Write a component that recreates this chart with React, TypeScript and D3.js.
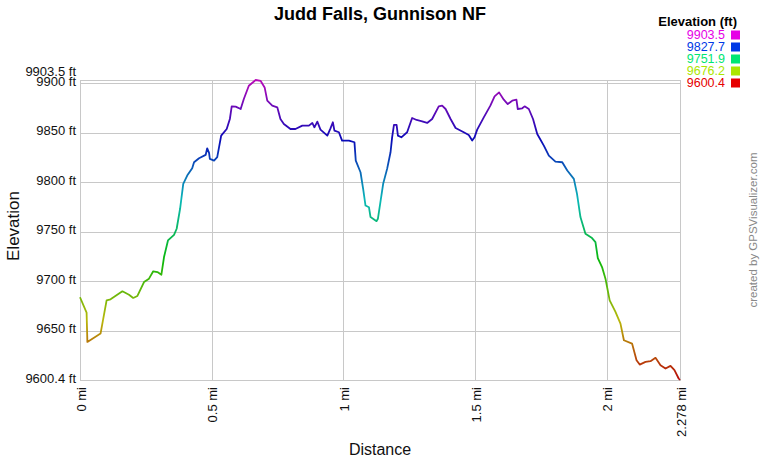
import React from "react";
import * as d3 from "d3";

const title = "Judd Falls, Gunnison NF";
const xTitle = "Distance";
const yTitle = "Elevation";
const credit = "created by GPSVisualizer.com";
const legendTitle = "Elevation (ft)";

const distanceMi = [
  0, 0.025, 0.028, 0.078, 0.101, 0.116, 0.161, 0.186, 0.202, 0.218,
  0.243, 0.262, 0.278, 0.294, 0.309, 0.319, 0.334, 0.357, 0.367, 0.380,
  0.392, 0.407, 0.426, 0.433, 0.452, 0.477, 0.483, 0.490, 0.493, 0.509,
  0.521, 0.536, 0.557, 0.569, 0.576, 0.591, 0.610, 0.622, 0.641, 0.667,
  0.686, 0.701, 0.711, 0.730, 0.749, 0.761, 0.774, 0.799, 0.818, 0.844,
  0.869, 0.882, 0.890, 0.901, 0.913, 0.939, 0.951, 0.960, 0.966, 0.983,
  0.995, 1.021, 1.042, 1.047, 1.065, 1.075, 1.084, 1.097, 1.103, 1.126,
  1.131, 1.151, 1.166, 1.179, 1.185, 1.192, 1.202, 1.207, 1.220, 1.242,
  1.261, 1.278, 1.299, 1.318, 1.337, 1.362, 1.375, 1.388, 1.407, 1.426,
  1.457, 1.476, 1.489, 1.498, 1.508, 1.533, 1.558, 1.574, 1.591, 1.609,
  1.624, 1.641, 1.657, 1.662, 1.679, 1.688, 1.704, 1.720, 1.736, 1.761,
  1.780, 1.805, 1.831, 1.850, 1.875, 1.887, 1.900, 1.919, 1.944, 1.957,
  1.966, 1.982, 1.995, 2.011, 2.033, 2.052, 2.065, 2.096, 2.113, 2.125,
  2.147, 2.166, 2.185, 2.204, 2.223, 2.242, 2.257, 2.273, 2.278,
];

const elevationFt = [
  9684, 9668.5, 9638.9, 9647.3, 9680.9, 9681.9, 9690, 9686.6, 9683.3, 9685.3,
  9699.4, 9702.8, 9710.2, 9709.5, 9706.8, 9724.6, 9741.4, 9747.1, 9753.2, 9773.4,
  9798.6, 9807, 9814.4, 9820.4, 9824.5, 9827.8, 9834.5, 9829.8, 9823.8, 9822.1,
  9825.5, 9847.3, 9854, 9864.1, 9876.9, 9876.6, 9874.2, 9884.3, 9897.7, 9903.5,
  9902.5, 9896, 9882.6, 9877.6, 9875.9, 9864.1, 9859.1, 9854, 9854, 9857.4,
  9857.4, 9860.1, 9855.7, 9861.4, 9853.4, 9847.3, 9854.7, 9860.8, 9852.4, 9850.7,
  9842.3, 9842.3, 9840.6, 9822.1, 9810.3, 9793.5, 9776.7, 9775, 9765, 9760.9,
  9763.3, 9798.6, 9813.7, 9830.5, 9845.6, 9858.1, 9858.1, 9847.3, 9845.6, 9850.7,
  9865.1, 9863.1, 9861.8, 9860.1, 9864.1, 9876.9, 9877.6, 9874.2, 9864.1, 9855,
  9850.7, 9848, 9842.3, 9845.6, 9853.4, 9865.8, 9877.6, 9887, 9891, 9883.6,
  9879.2, 9882.6, 9883.6, 9874.2, 9874.9, 9876.9, 9874.2, 9864.1, 9849, 9837.2,
  9827.1, 9821.1, 9820.4, 9812, 9803.6, 9788.5, 9765, 9748.1, 9743.8, 9739.7,
  9723.6, 9714.5, 9702.8, 9680.9, 9669.2, 9657.4, 9640.6, 9637.2, 9620.4, 9616,
  9618.7, 9619.4, 9622.8, 9615.4, 9612, 9614.7, 9610.3, 9601.9, 9600.4,
];

const yMin = 9600.4;
const yMax = 9903.5;
const xMax = 2.278;
const yTicks = [9650, 9700, 9750, 9800, 9850, 9900];
const xTicks = [0, 0.5, 1, 1.5, 2];
const legendValues = ["9903.5", "9827.7", "9751.9", "9676.2", "9600.4"];

const W = 760;
const H = 460;
const L = 80, R = 680, T = 80, B = 380;
const FONT = "Arial, 'Liberation Sans', Helvetica, sans-serif";

export default function App() {
  const x = d3.scaleLinear().domain([0, xMax]).range([L, R]);
  const y = d3.scaleLinear().domain([yMin, yMax]).range([B, T]);
  const hue = d3.scaleLinear().domain([yMin, yMax]).range([0, 300]);

  const pts = distanceMi.map((d, i) => [d, elevationFt[i]] as [number, number]);
  const line = d3
    .line<[number, number]>()
    .x((d) => x(d[0]))
    .y((d) => y(d[1]))
    .curve(d3.curveLinear);

  const stopsN = 20;
  const stops = d3.range(stopsN + 1).map((i) => {
    const v = yMin + ((yMax - yMin) * i) / stopsN;
    return {
      offset: `${(i / stopsN) * 100}%`,
      color: d3.hsl(hue(v), 0.9, 0.38).formatHex(),
    };
  });

  const legendColor = (v: number) => d3.hsl(hue(v), 1, 0.45).formatHex();
  const gridColor = "#c8c8c8";

  return (
    <svg
      width={W}
      height={H}
      style={{ position: "absolute", left: 0, top: 0, background: "#fff", display: "block" }}
      fontFamily={FONT}
    >
      <defs>
        <linearGradient
          id="elevGrad"
          gradientUnits="userSpaceOnUse"
          x1={0}
          x2={0}
          y1={y(yMin)}
          y2={y(yMax)}
        >
          {stops.map((s, i) => (
            <stop key={i} offset={s.offset} stopColor={s.color} />
          ))}
        </linearGradient>
      </defs>
      <rect x={0} y={0} width={W} height={H} fill="#fff" />

      {/* title */}
      <text x={380} y={20} textAnchor="middle" fontSize={18} fontWeight="bold" fill="#000">
        {title}
      </text>

      {/* grid */}
      {yTicks.map((t) => (
        <line
          key={"gy" + t}
          x1={L}
          x2={R}
          y1={Math.round(y(t)) + 0.5}
          y2={Math.round(y(t)) + 0.5}
          stroke={gridColor}
          strokeWidth={1}
        />
      ))}
      {xTicks.map((t) => (
        <line
          key={"gx" + t}
          x1={Math.round(x(t)) + 0.5}
          x2={Math.round(x(t)) + 0.5}
          y1={T}
          y2={B}
          stroke={gridColor}
          strokeWidth={1}
        />
      ))}
      <rect x={L + 0.5} y={T + 0.5} width={R - L} height={B - T} fill="none" stroke={gridColor} />

      {/* y tick labels */}
      {yTicks.map((t) => (
        <text
          key={"ly" + t}
          x={76}
          y={y(t) - 2}
          textAnchor="end"
          dominantBaseline="central"
          fontSize={13}
          fill="#111"
        >
          {`${t} ft`}
        </text>
      ))}
      <text x={76} y={71} textAnchor="end" dominantBaseline="central" fontSize={13} fill="#111">
        {`${yMax} ft`}
      </text>
      <text x={76} y={y(yMin) - 2} textAnchor="end" dominantBaseline="central" fontSize={13} fill="#111">
        {`${yMin} ft`}
      </text>

      {/* x tick labels */}
      {[...xTicks, xMax].map((t) => (
        <text
          key={"lx" + t}
          transform={`translate(${x(t) + 1},387) rotate(-90)`}
          textAnchor="end"
          dominantBaseline="central"
          fontSize={13}
          fill="#111"
        >
          {`${t} mi`}
        </text>
      ))}

      {/* axis titles */}
      <text x={380} y={455} textAnchor="middle" fontSize={16} fill="#111">
        {xTitle}
      </text>
      <text
        transform={`translate(13,226) rotate(-90)`}
        textAnchor="middle"
        dominantBaseline="central"
        fontSize={17}
        fill="#111"
      >
        {yTitle}
      </text>

      {/* profile line */}
      <path
        d={line(pts) || ""}
        fill="none"
        stroke="url(#elevGrad)"
        strokeWidth={1.8}
        strokeLinejoin="round"
      />

      {/* legend */}
      <text x={737} y={21} textAnchor="end" dominantBaseline="central" fontSize={13} fontWeight="bold" fill="#000">
        {legendTitle}
      </text>
      {legendValues.map((v, i) => {
        const cy = 35 + i * 12;
        const c = legendColor(+v);
        return (
          <g key={v}>
            <text x={725} y={cy} textAnchor="end" dominantBaseline="central" fontSize={12.5} fill={c}>
              {v}
            </text>
            <rect x={731} y={cy - 4.5} width={9} height={9} fill={c} />
          </g>
        );
      })}

      {/* credit */}
      <text
        transform={`translate(753,230) rotate(-90)`}
        textAnchor="middle"
        dominantBaseline="central"
        fontSize={11.5}
        fill="#888"
      >
        {credit}
      </text>
    </svg>
  );
}
